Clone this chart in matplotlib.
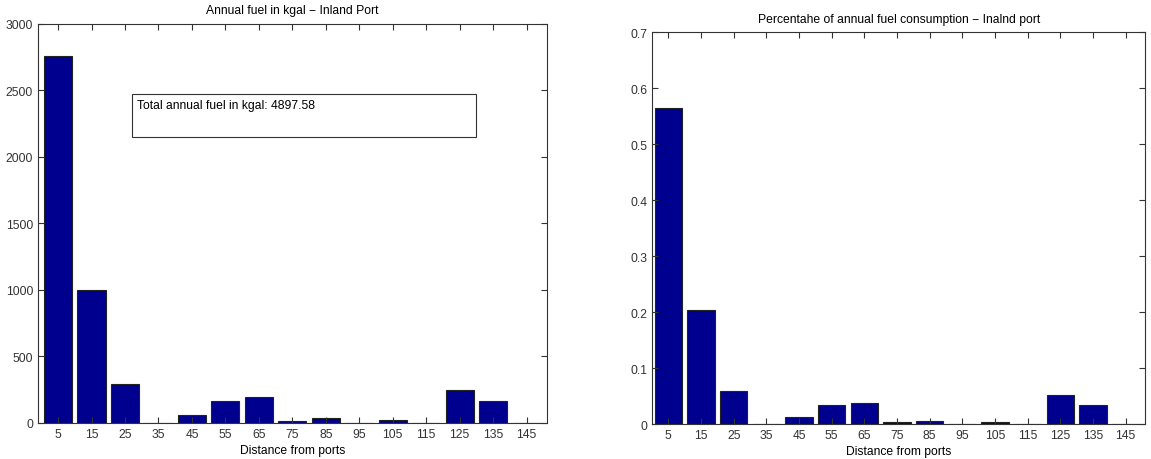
import numpy as np
import matplotlib
matplotlib.use('Agg')
import matplotlib.pyplot as plt
from matplotlib.patches import Rectangle

plt.rcParams['font.family'] = ['Liberation Sans', 'DejaVu Sans']

# distance bins (km from port)
distance = [5, 15, 25, 35, 45, 55, 65, 75, 85, 95, 105, 115, 125, 135, 145]
# annual fuel in kgal per distance bin
fuel_kgal = [2762, 1000, 292, 0, 60, 167, 193, 12, 35, 0, 22, 0, 245, 165, 0]
# share of annual fuel consumption per bin
fuel_share = [0.564, 0.204, 0.0595, 0, 0.0125, 0.0345, 0.038, 0.003, 0.006, 0, 0.004, 0, 0.052, 0.034, 0]
total_label = 'Total annual fuel in kgal: 4897.58'

bar_color = '#00008F'
fs = 8.7

fig = plt.figure(figsize=(11.51, 4.6), dpi=100)
ax1 = fig.add_axes([0.033, 0.0783, 0.442, 0.8674])
ax2 = fig.add_axes([0.5665, 0.076, 0.4285, 0.852])


def style(ax):
    ax.tick_params(direction='in', top=True, right=True, labelsize=fs,
                   length=4, width=0.8, colors='#333333')
    for s in ax.spines.values():
        s.set_color('#333333')
        s.set_linewidth(0.8)
    ax.set_xticks(distance)
    ax.set_xlabel('Distance from ports', fontsize=fs, labelpad=3)


ax1.bar(distance, fuel_kgal, width=8.4, color=bar_color, edgecolor='#222222', linewidth=0.8)
ax1.set_xlim(-1, 151)
ax1.set_ylim(0, 3000)
ax1.set_yticks(np.arange(0, 3001, 500))
ax1.set_title('Annual fuel in kgal \u2212 Inland Port', fontsize=fs, pad=8)
style(ax1)

# info box with the total
ax1.add_patch(Rectangle((27, 2152), 102.8, 323, fill=False, edgecolor='#333333', linewidth=0.8))
ax1.text(28.5, 2435, total_label, fontsize=fs, va='top', ha='left')

ax2.bar(distance, fuel_share, width=8.4, color=bar_color, edgecolor='#222222', linewidth=0.8)
ax2.set_xlim(0, 151)
ax2.set_ylim(0, 0.7)
ax2.set_yticks(np.arange(0, 0.71, 0.1))
ax2.set_yticklabels(['0', '0.1', '0.2', '0.3', '0.4', '0.5', '0.6', '0.7'])
ax2.set_title('Percentahe of annual fuel consumption \u2212 Inalnd port', fontsize=fs, pad=7)
style(ax2)

fig.savefig('out.png', dpi=100)
